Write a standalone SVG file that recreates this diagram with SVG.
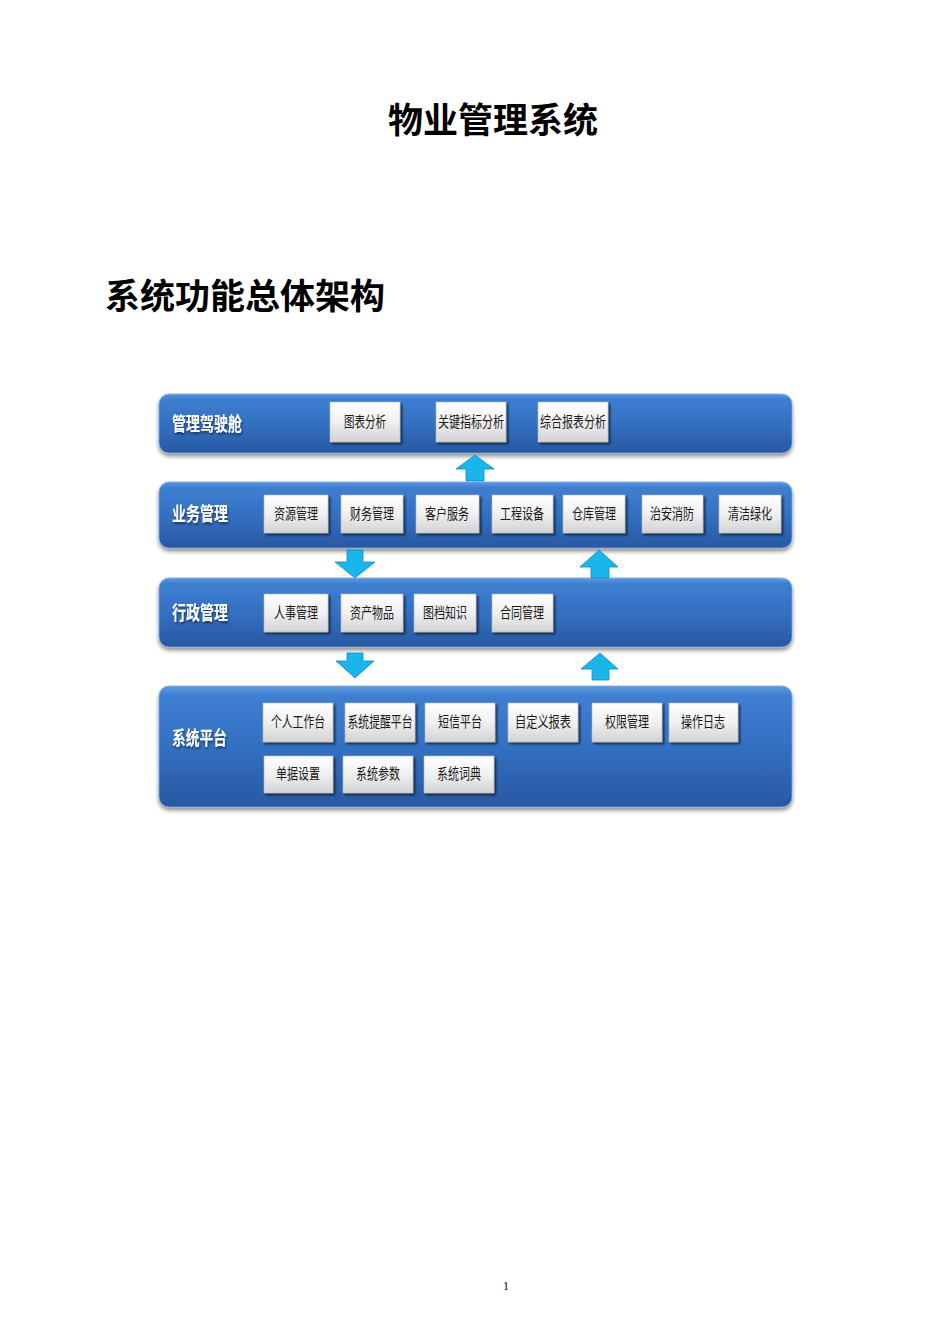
<svg xmlns="http://www.w3.org/2000/svg" width="950" height="1344" viewBox="0 0 950 1344">
<defs>
<linearGradient id="pg" x1="0" y1="0" x2="0" y2="1">
<stop offset="0" stop-color="#5f9be0"/>
<stop offset="0.08" stop-color="#3f7fd2"/>
<stop offset="0.5" stop-color="#3370c2"/>
<stop offset="1" stop-color="#2858a2"/>
</linearGradient>
<linearGradient id="bg" x1="0" y1="0" x2="0" y2="1">
<stop offset="0" stop-color="#ffffff"/>
<stop offset="0.5" stop-color="#f0f0f0"/>
<stop offset="1" stop-color="#d2d2d2"/>
</linearGradient>
<filter id="ps" x="-5%" y="-20%" width="110%" height="150%">
<feGaussianBlur in="SourceAlpha" stdDeviation="2"/>
<feOffset dx="0" dy="3" result="b"/>
<feComponentTransfer><feFuncA type="linear" slope="0.45"/></feComponentTransfer>
<feMerge><feMergeNode/><feMergeNode in="SourceGraphic"/></feMerge>
</filter>
<filter id="bs" x="-20%" y="-20%" width="150%" height="160%">
<feGaussianBlur in="SourceAlpha" stdDeviation="1"/>
<feOffset dx="2" dy="2" result="b"/>
<feComponentTransfer><feFuncA type="linear" slope="0.6"/></feComponentTransfer>
<feMerge><feMergeNode/><feMergeNode in="SourceGraphic"/></feMerge>
</filter>
<filter id="ts" x="-10%" y="-20%" width="130%" height="150%">
<feGaussianBlur in="SourceAlpha" stdDeviation="0.8"/>
<feOffset dx="1" dy="1.5" result="b"/>
<feComponentTransfer><feFuncA type="linear" slope="0.5"/></feComponentTransfer>
<feMerge><feMergeNode/><feMergeNode in="SourceGraphic"/></feMerge>
</filter>
</defs>
<style>
.title{font-family:"Noto Sans CJK SC","Noto Sans",sans-serif;font-weight:bold;fill:#000}
.panel{fill:url(#pg);stroke:#7fa8dc;stroke-width:0.8;filter:url(#ps)}
.plab{font-family:"Noto Sans CJK SC",sans-serif;font-size:19px;font-weight:bold;fill:#ffffff;filter:url(#ts)}
.box{fill:url(#bg);stroke:#b8b8b8;stroke-width:0.6;filter:url(#bs)}
.btxt{font-family:"Noto Sans CJK SC",sans-serif;font-size:15px;fill:#1a1a1a;text-anchor:middle}
.arrow{fill:#19b6ec;stroke:#0c8cc6;stroke-width:0.8}
.pn{font-family:"Liberation Serif",serif;font-size:12px;fill:#000;text-anchor:middle}
</style>
<rect width="950" height="1344" fill="#ffffff"/>
<text class="title" x="493" y="133" font-size="35" text-anchor="middle">物业管理系统</text>
<text class="title" x="105" y="309" font-size="35" textLength="280" lengthAdjust="spacingAndGlyphs">系统功能总体架构</text>

<g id="panel-cockpit">
<rect class="panel" x="159" y="394" width="633" height="59" rx="10"/>
<text class="plab" x="172" y="431" textLength="70" lengthAdjust="spacingAndGlyphs">管理驾驶舱</text>
</g>
<g id="panel-business">
<rect class="panel" x="159" y="482" width="633" height="66" rx="10"/>
<text class="plab" x="172" y="521" textLength="56" lengthAdjust="spacingAndGlyphs">业务管理</text>
</g>
<g id="panel-admin">
<rect class="panel" x="159" y="578" width="633" height="69" rx="10"/>
<text class="plab" x="172" y="620" textLength="56" lengthAdjust="spacingAndGlyphs">行政管理</text>
</g>
<g id="panel-platform">
<rect class="panel" x="159" y="686" width="633" height="121" rx="10"/>
<text class="plab" x="172" y="745" textLength="55" lengthAdjust="spacingAndGlyphs">系统平台</text>
</g>

<g id="n-chart"><rect class="box" x="330" y="402" width="70" height="40"/><text class="btxt" x="365" y="427" textLength="42" lengthAdjust="spacingAndGlyphs">图表分析</text></g>
<g id="n-kpi"><rect class="box" x="436" y="402" width="70" height="40"/><text class="btxt" x="471" y="427" textLength="66" lengthAdjust="spacingAndGlyphs">关键指标分析</text></g>
<g id="n-report"><rect class="box" x="538" y="402" width="70" height="40"/><text class="btxt" x="573" y="427" textLength="66" lengthAdjust="spacingAndGlyphs">综合报表分析</text></g>

<g id="n-res"><rect class="box" x="264" y="495" width="64" height="38"/><text class="btxt" x="296" y="519" textLength="44" lengthAdjust="spacingAndGlyphs">资源管理</text></g>
<g id="n-fin"><rect class="box" x="341" y="495" width="62" height="38"/><text class="btxt" x="372" y="519" textLength="44" lengthAdjust="spacingAndGlyphs">财务管理</text></g>
<g id="n-cust"><rect class="box" x="416" y="495" width="63" height="38"/><text class="btxt" x="447" y="519" textLength="44" lengthAdjust="spacingAndGlyphs">客户服务</text></g>
<g id="n-eng"><rect class="box" x="492" y="495" width="61" height="38"/><text class="btxt" x="522" y="519" textLength="44" lengthAdjust="spacingAndGlyphs">工程设备</text></g>
<g id="n-wh"><rect class="box" x="563" y="495" width="62" height="38"/><text class="btxt" x="594" y="519" textLength="44" lengthAdjust="spacingAndGlyphs">仓库管理</text></g>
<g id="n-sec"><rect class="box" x="642" y="495" width="61" height="38"/><text class="btxt" x="672" y="519" textLength="44" lengthAdjust="spacingAndGlyphs">治安消防</text></g>
<g id="n-clean"><rect class="box" x="719" y="495" width="62" height="38"/><text class="btxt" x="750" y="519" textLength="44" lengthAdjust="spacingAndGlyphs">清洁绿化</text></g>

<g id="n-hr"><rect class="box" x="264" y="594" width="64" height="38"/><text class="btxt" x="296" y="618" textLength="44" lengthAdjust="spacingAndGlyphs">人事管理</text></g>
<g id="n-asset"><rect class="box" x="341" y="594" width="62" height="38"/><text class="btxt" x="372" y="618" textLength="44" lengthAdjust="spacingAndGlyphs">资产物品</text></g>
<g id="n-doc"><rect class="box" x="414" y="594" width="62" height="38"/><text class="btxt" x="445" y="618" textLength="44" lengthAdjust="spacingAndGlyphs">图档知识</text></g>
<g id="n-contract"><rect class="box" x="492" y="594" width="61" height="38"/><text class="btxt" x="522" y="618" textLength="44" lengthAdjust="spacingAndGlyphs">合同管理</text></g>

<g id="n-desk"><rect class="box" x="263" y="703" width="70" height="39"/><text class="btxt" x="298" y="727" textLength="54" lengthAdjust="spacingAndGlyphs">个人工作台</text></g>
<g id="n-remind"><rect class="box" x="345" y="703" width="70" height="39"/><text class="btxt" x="380" y="727" textLength="65" lengthAdjust="spacingAndGlyphs">系统提醒平台</text></g>
<g id="n-sms"><rect class="box" x="425" y="703" width="70" height="39"/><text class="btxt" x="460" y="727" textLength="44" lengthAdjust="spacingAndGlyphs">短信平台</text></g>
<g id="n-custrep"><rect class="box" x="508" y="703" width="70" height="39"/><text class="btxt" x="543" y="727" textLength="56" lengthAdjust="spacingAndGlyphs">自定义报表</text></g>
<g id="n-perm"><rect class="box" x="592" y="703" width="70" height="39"/><text class="btxt" x="627" y="727" textLength="44" lengthAdjust="spacingAndGlyphs">权限管理</text></g>
<g id="n-log"><rect class="box" x="669" y="703" width="69" height="39"/><text class="btxt" x="703" y="727" textLength="44" lengthAdjust="spacingAndGlyphs">操作日志</text></g>
<g id="n-bill"><rect class="box" x="264" y="756" width="69" height="37"/><text class="btxt" x="298" y="779" textLength="44" lengthAdjust="spacingAndGlyphs">单据设置</text></g>
<g id="n-param"><rect class="box" x="343" y="756" width="70" height="37"/><text class="btxt" x="378" y="779" textLength="44" lengthAdjust="spacingAndGlyphs">系统参数</text></g>
<g id="n-dict"><rect class="box" x="424" y="756" width="70" height="37"/><text class="btxt" x="459" y="779" textLength="44" lengthAdjust="spacingAndGlyphs">系统词典</text></g>

<g id="connectors">
<path class="arrow" d="M475,455 L494,469 L484,469 L484,481 L466,481 L466,469 L456,469 Z"/>
<path class="arrow" d="M347,550 L363,550 L363,562 L375,562 L355,578 L335,562 L347,562 Z"/>
<path class="arrow" d="M599,550 L618,567 L609,567 L609,578 L591,578 L591,567 L580,567 Z"/>
<path class="arrow" d="M347,653 L363,653 L363,661 L374,661 L355,678 L336,661 L347,661 Z"/>
<path class="arrow" d="M600,653 L618,669 L609,669 L609,680 L592,680 L592,669 L581,669 Z"/>
</g>

<text class="pn" x="506" y="1290">1</text>
</svg>
